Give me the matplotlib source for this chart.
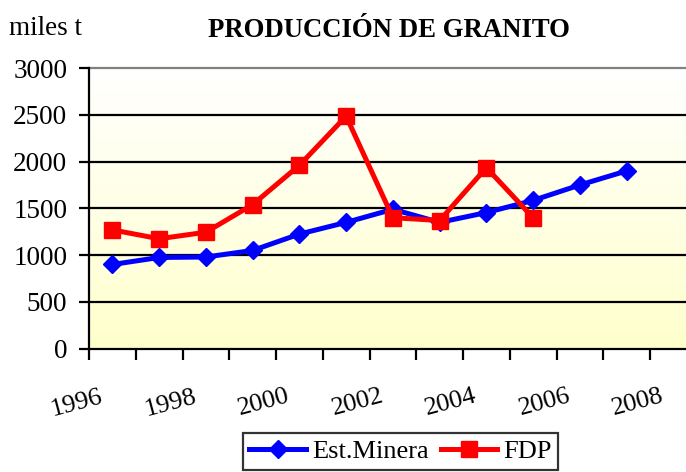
import numpy as np
import matplotlib
matplotlib.use("Agg")
import matplotlib.pyplot as plt
from matplotlib.transforms import ScaledTranslation

plt.rcParams['font.family'] = ['Liberation Serif', 'DejaVu Serif']

years = [1996.5, 1997.5, 1998.5, 1999.5, 2000.5, 2001.5, 2002.5, 2003.5,
         2004.5, 2005.5, 2006.5, 2007.5]
est_minera = [900, 975, 980, 1050, 1225, 1350, 1490, 1350, 1455, 1585, 1750, 1900]
fdp_years = [1996.5, 1997.5, 1998.5, 1999.5, 2000.5, 2001.5, 2002.5, 2003.5,
             2004.5, 2005.5]
fdp = [1270, 1175, 1245, 1540, 1960, 2485, 1400, 1370, 1935, 1400]
xticks = [1996, 1998, 2000, 2002, 2004, 2006, 2008]
yticks = [0, 500, 1000, 1500, 2000, 2500, 3000]

W, H = 686, 472
DPI = 100
fig = plt.figure(figsize=(W / DPI, H / DPI), dpi=DPI)
ax = fig.add_axes([89 / W, 1 - 348.7 / H, (W - 89) / W, (348.7 - 68) / H])

# gradient background
grad = np.linspace(0, 1, 256).reshape(-1, 1)
top = np.array([1.0, 1.0, 1.0])
bot = np.array([1.0, 1.0, 0.80])
img = top + (bot - top) * grad[:, :, None] * np.ones((1, 2, 1))
ax.imshow(img, extent=[0, 1, 0, 1], transform=ax.transAxes, aspect='auto',
          zorder=0, origin='upper')

ax.set_xlim(1996, 2008.77)
ax.set_ylim(0, 3000)

for y in yticks[1:-1]:
    ax.axhline(y, color='black', lw=1.6, zorder=1)
ax.axhline(3000, color='#808080', lw=1.6, zorder=1, clip_on=False)

ax.plot(years, est_minera, color='#0000FF', lw=3.6, marker='D', ms=9.5,
        label='Est.Minera', zorder=3)
ax.plot(fdp_years, fdp, color='#FF0000', lw=3.6, marker='s', ms=11,
        label='FDP', zorder=4)

for s in ['top', 'right']:
    ax.spines[s].set_visible(False)
for s in ['left', 'bottom']:
    ax.spines[s].set_linewidth(1.6)
    ax.spines[s].set_color('black')

ax.tick_params(axis='x', length=8, width=1.6, direction='out', pad=31)
ax.tick_params(axis='y', length=7, width=1.6, direction='out', pad=8.6)
ax.set_xticks(range(1996, 2009))
ax.set_xticklabels([str(y) if y in xticks else '' for y in range(1996, 2009)],
                   rotation=15, fontsize=19, rotation_mode='anchor',
                   ha='center', va='center')
off = ScaledTranslation(-12 / DPI, 0, fig.dpi_scale_trans)
for lab in ax.get_xticklabels():
    lab.set_transform(lab.get_transform() + off)
ax.set_yticks(yticks)
ax.set_yticklabels([str(v) for v in yticks], fontsize=19.5)

fig.text(9 / W, 1 - 35 / H, 'miles t', fontsize=19.5, va='baseline', ha='left')
fig.text(388.5 / W, 1 - 37 / H, 'PRODUCCIÓN DE GRANITO', fontsize=19.3,
         fontweight='bold', va='baseline', ha='center')

leg = fig.legend(loc='upper center', bbox_to_anchor=(400.5 / W, 1 - 433 / H),
                 ncol=2, fontsize=19, frameon=True, fancybox=False,
                 edgecolor='black', handlelength=2.15, columnspacing=0.45,
                 handletextpad=0.23, borderpad=0.25, borderaxespad=0)
leg.get_frame().set_linewidth(1.6)

fig.savefig('out.png', dpi=DPI)
